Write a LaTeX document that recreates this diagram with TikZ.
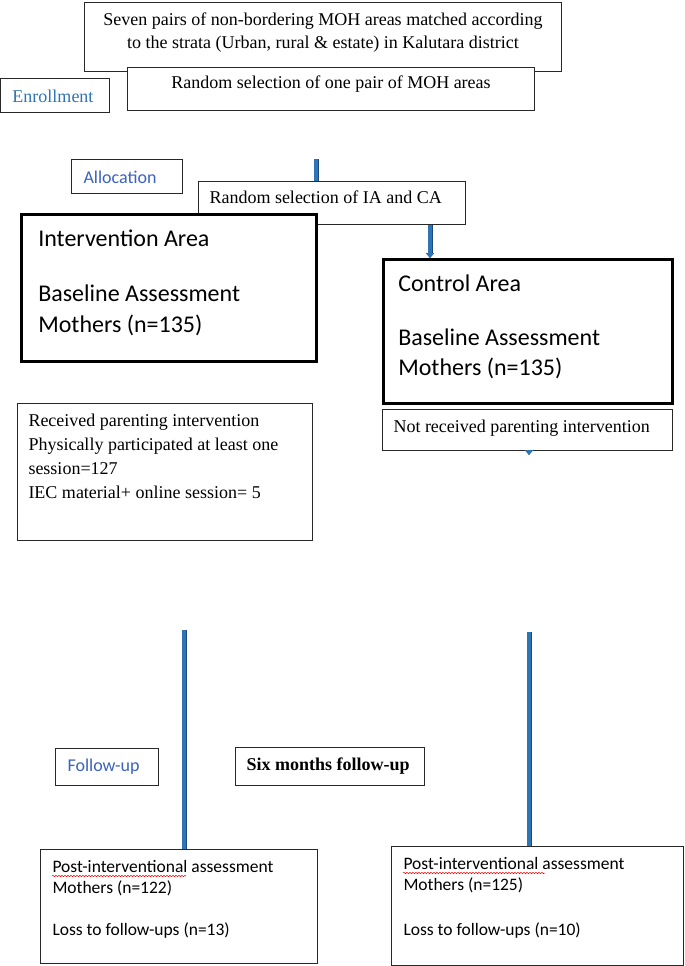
\documentclass[tikz,border=0pt]{standalone}
\usepackage{fontspec}
\setmainfont{Liberation Serif}
\newfontfamily\calibri{Carlito}
\usetikzlibrary{arrows.meta,decorations.pathmorphing}
\definecolor{enrolblue}{RGB}{46,116,181}
\definecolor{stageblue}{RGB}{59,98,192}
\definecolor{barblue}{RGB}{46,117,182}
\definecolor{baredge}{RGB}{31,73,125}
\definecolor{boxline}{RGB}{40,40,40}
\newcommand{\bodysz}{\fontsize{18}{24}\selectfont}
\tikzset{
	panel/.style={draw=boxline,line width=1pt,anchor=north west,inner ysep=0pt,fill=white},
	heavy/.style={panel,draw=black,line width=2.6pt},
	bar/.style={draw=barblue,line width=4pt,preaction={draw=baredge,line width=5pt}},
	spell/.style={red,line width=0.5pt,decorate,decoration={snake,amplitude=0.7pt,segment length=3pt}}
}

\begin{document}
\begin{tikzpicture}[x=1pt,y=-1pt]
\useasboundingbox (0,0) rectangle (685,966);
\node[panel,inner xsep=10pt] (moh) at (84,2) {\parbox[t][69pt][t]{457pt}{\fontsize{18}{23}\selectfont\centering\vspace*{6.9pt}\strut Seven pairs of non-bordering MOH areas matched according\\ to the strata (Urban, rural \& estate) in Kalutara district}};
\node[panel,inner xsep=10pt] (pair) at (127,67) {\parbox[t][43pt][t]{387pt}{\bodysz\centering\vspace*{4.2pt}\strut Random selection of one pair of MOH areas}};
\node[panel,inner xsep=12pt,text=enrolblue] (enrol) at (0,78) {\parbox[t][34pt][t]{85pt}{\bodysz\vspace*{7.2pt}\strut Enrollment}};
\node[panel,inner xsep=12pt,text=stageblue] (alloc) at (71,159) {\parbox[t][34pt][t]{87pt}{\calibri\bodysz\vspace*{7.2pt}\strut Allocation}};
\node[panel,inner xsep=11pt] (iaca) at (198,181) {\parbox[t][43pt][t]{245pt}{\bodysz\vspace*{5.2pt}\strut Random selection of IA and CA}};
\node[heavy,inner xsep=17pt] (inter) at (20,213) {\parbox[t][147pt][t]{261pt}{\calibri\fontsize{24}{31}\selectfont\raggedright\vspace*{10.3pt}\strut Intervention Area\\[24pt] Baseline Assessment\\ Mothers (n=135)}};
\node[heavy,inner xsep=15pt] (control) at (382,258) {\parbox[t][144pt][t]{259pt}{\calibri\fontsize{24}{30}\selectfont\raggedright\vspace*{11pt}\strut Control Area\\[24pt] Baseline Assessment\\ Mothers (n=135)}};
\node[panel,inner xsep=11pt] (recv) at (17,403) {\parbox[t][137pt][t]{273pt}{\bodysz\raggedright\vspace*{6.2pt}\strut Received parenting intervention\\ Physically participated at least one\\ session=127\\ IEC material+ online session= 5}};
\node[panel,inner xsep=11pt] (notrec) at (382,409) {\parbox[t][41pt][t]{268pt}{\bodysz\vspace*{6.2pt}\strut Not received parenting intervention}};
\node[panel,inner xsep=12pt,text=stageblue] (fu) at (55,748) {\parbox[t][37pt][t]{79pt}{\calibri\bodysz\vspace*{6.2pt}\strut Follow-up}};
\node[panel,inner xsep=11pt] (six) at (235,747) {\parbox[t][38pt][t]{167pt}{\bodysz\bfseries\vspace*{6.2pt}\strut Six months follow-up}};
\node[panel,inner xsep=12pt] (postL) at (40,849) {\parbox[t][114pt][t]{253pt}{\calibri\fontsize{17.5}{21}\selectfont\raggedright\vspace*{8.3pt}\strut Post-interventional assessment\\ Mothers (n=122)\\[21pt] Loss to follow-ups (n=13)}};
\node[panel,inner xsep=12pt] (postR) at (391,846) {\parbox[t][119pt][t]{268pt}{\calibri\fontsize{17.5}{21}\selectfont\raggedright\vspace*{8.3pt}\strut Post-interventional assessment\\ Mothers (n=125)\\[24pt] Loss to follow-ups (n=10)}};
\coordinate (drop1) at (316,159);
\coordinate (split) at (430,0);
\coordinate (tipR) at (529,455);
\coordinate (dropL) at (184,630);
\coordinate (dropR) at (529,632);
\draw[bar] (drop1) -- (drop1 |- iaca.north);
\draw[bar,-{Triangle[width=8pt,length=5pt]}] (iaca.south -| split) -- (control.north -| split);
\draw[bar,-{Triangle[width=8pt,length=5pt]}] (notrec.south -| tipR) -- (tipR);
\draw[bar] (dropL) -- (dropL |- postL.north);
\draw[bar] (dropR) -- (dropR |- postR.north);
\draw[spell] (52,876) -- (186,876);
\draw[spell] (403,873) -- (545,873);
\end{tikzpicture}
\end{document}
